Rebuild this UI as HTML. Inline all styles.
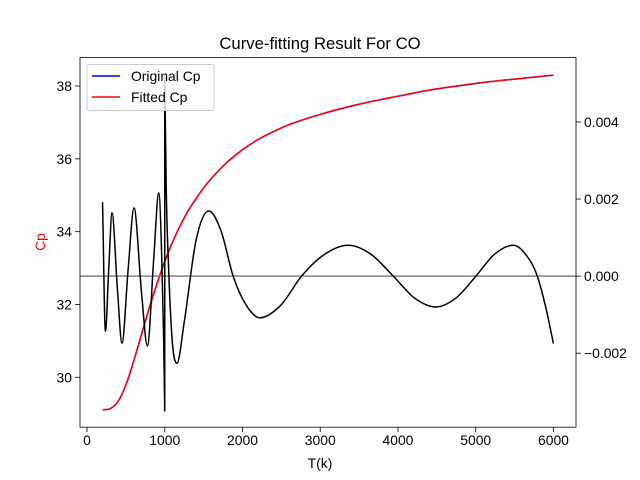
<!DOCTYPE html>
<html><head><meta charset="utf-8"><style>
body{margin:0;background:#fff;}
svg{display:block;font-family:"Liberation Sans","DejaVu Sans",sans-serif;}
</style></head><body>
<svg id="chart" width="640" height="480" xmlns="http://www.w3.org/2000/svg"></svg>
<script>
const temps = [200,300,400,500,600,700,800,900,1000,1100,1200,1300,1400,1500,1750,2000,2500,3000,3500,4000,4500,5000,5500,6000];
const cpValues = [29.11,29.14,29.34,29.79,30.44,31.17,31.9,32.57,33.18,33.71,34.17,34.57,34.9,35.2,35.8,36.25,36.85,37.22,37.5,37.72,37.92,38.07,38.19,38.3];
const errLeftT = [200,237,280,322,390,450,530,605,700,777,860,923,960,985,1000];
const errLeftV = [0.00192,-0.00143,0.0002,0.00164,-0.0003,-0.00174,0.0002,0.00177,-0.0004,-0.00181,0.0005,0.00216,0.0006,-0.0015,-0.0035];
const errRightT = [1000,1020,1050,1090,1158,1250,1400,1566,1723,1880,2050,2223,2490,2760,3060,3360,3650,3940,4214,4488,4745,5003,5243,5483,5640,5792,5900,6000];
const errRightV = [0.0052,0.0022,0.0002,-0.0015,-0.00226,-0.0012,0.0009,0.00169,0.00118,0,-0.00076,-0.00108,-0.00076,0,0.00057,0.0008,0.00057,0,-0.00057,-0.0008,-0.00057,0,0.00057,0.0008,0.00057,0,-0.0008,-0.00175];
const xTicks = [0,1000,2000,3000,4000,5000,6000];
const yTicks = [30,32,34,36,38];
const y2Ticks = [-0.002,0,0.002,0.004];
const y2Labels = ["\u22120.002","0.000","0.002","0.004"];

const L=80,R=576,T=57.6,B=427.2;
const X=t=>L+(t+90)/(6380)*(R-L);
const Y=v=>B-(v-28.63)/(38.78-28.63)*(B-T);
const Y2=v=>B-(v+0.00392)/(0.00567+0.00392)*(B-T);
const svg=document.getElementById('chart');
const NS='http://www.w3.org/2000/svg';
function mk(tag,attrs,parent){const e=document.createElementNS(NS,tag);for(const k in attrs)e.setAttribute(k,attrs[k]);(parent||svg).appendChild(e);return e;}
function spline(pts,start){
  const n=pts.length,m=[];
  for(let i=0;i<n;i++){
    if(i==0)m.push((pts[1][1]-pts[0][1])/(pts[1][0]-pts[0][0]));
    else if(i==n-1)m.push((pts[n-1][1]-pts[n-2][1])/(pts[n-1][0]-pts[n-2][0]));
    else{const s0=(pts[i][1]-pts[i-1][1])/(pts[i][0]-pts[i-1][0]),s1=(pts[i+1][1]-pts[i][1])/(pts[i+1][0]-pts[i][0]);
      const h0=pts[i][0]-pts[i-1][0],h1=pts[i+1][0]-pts[i][0];
      m.push(s0*s1<=0?0:(h1*s0+h0*s1)/(h0+h1));}
  }
  let d=(start||'M')+pts[0][0].toFixed(2)+','+pts[0][1].toFixed(2);
  for(let i=0;i<n-1;i++){const h=pts[i+1][0]-pts[i][0];
    d+=' C'+(pts[i][0]+h/3).toFixed(2)+','+(pts[i][1]+m[i]*h/3).toFixed(2)+' '+(pts[i+1][0]-h/3).toFixed(2)+','+(pts[i+1][1]-m[i+1]*h/3).toFixed(2)+' '+pts[i+1][0].toFixed(2)+','+pts[i+1][1].toFixed(2);}
  return d;}

let t=mk('text',{x:320,y:49,'text-anchor':'middle','font-size':'16.7'});t.textContent='Curve-fitting Result For CO';


const cpPts=temps.map((v,i)=>[X(v),Y(cpValues[i])]);
let p=mk('path',{d:spline(cpPts),fill:'none',stroke:'blue','stroke-width':1.5});

p=mk('path',{d:spline(cpPts),fill:'none',stroke:'red','stroke-width':1.5});


p=mk('line',{x1:L,x2:R,y1:Y2(0),y2:Y2(0),stroke:'gray','stroke-width':1.5});

const eL=errLeftT.map((v,i)=>[X(v),Y2(errLeftV[i])]);
const eR=errRightT.map((v,i)=>[X(v),Y2(errRightV[i])]);
p=mk('path',{d:spline(eL)+' '+spline(eR,'L'),fill:'none',stroke:'black','stroke-width':1.5,'stroke-linejoin':'round'});


p=mk('rect',{x:L,y:T,width:R-L,height:B-T,fill:'none',stroke:'black','stroke-width':0.8});


xTicks.forEach(v=>{const x=X(v);let l=mk('line',{x1:x,x2:x,y1:B,y2:B+4.9,stroke:'black','stroke-width':0.8});

let s=mk('text',{x:x,y:B+18,'text-anchor':'middle','font-size':'13.9'});s.textContent=v;
});
yTicks.forEach(v=>{const y=Y(v);let l=mk('line',{x1:L-4.9,x2:L,y1:y,y2:y,stroke:'black','stroke-width':0.8});

let s=mk('text',{x:L-8,y:y+5,'text-anchor':'end','font-size':'13.9'});s.textContent=v;
});
y2Ticks.forEach((v,i)=>{const y=Y2(v);let l=mk('line',{x1:R,x2:R+4.9,y1:y,y2:y,stroke:'black','stroke-width':0.8});

let s=mk('text',{x:R+8,y:y+5,'text-anchor':'start','font-size':'13.9'});s.textContent=y2Labels[i];
});

t=mk('text',{x:320,y:468,'text-anchor':'middle','font-size':'13.9'});t.textContent='T(k)';

t=mk('text',{x:45,y:242,'text-anchor':'middle','font-size':'13.9',fill:'red',transform:'rotate(-90 45 242)'});t.textContent='Cp';


const lg=mk('g',{});

mk('rect',{x:87,y:64.5,width:127,height:46,rx:2,fill:'white','fill-opacity':0.8,stroke:'#ccc','stroke-width':1},lg);
const entries=[['Original Cp','blue'],['Fitted Cp','red']];
entries.forEach((e,i)=>{const y=76+i*21;
let l=mk('line',{x1:92,x2:120,y1:y,y2:y,stroke:e[1],'stroke-width':1.5},lg);

let s=mk('text',{x:131,y:y+5,'font-size':'13.9'},lg);s.textContent=e[0];
});
</script>
</body></html>
